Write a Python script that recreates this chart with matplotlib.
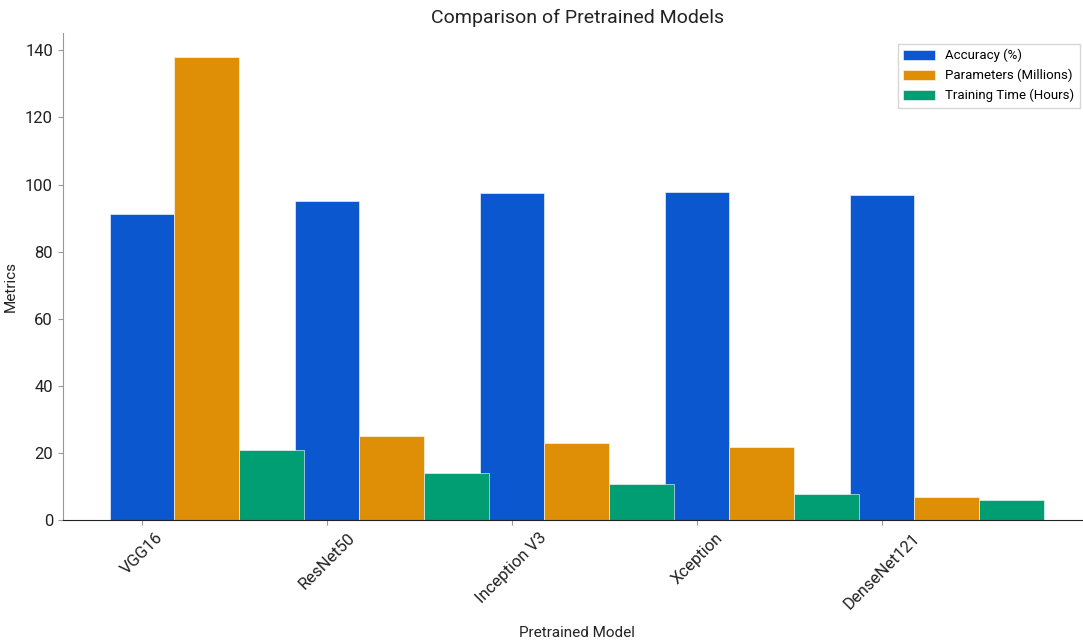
import numpy as np
import matplotlib
matplotlib.use("Agg")
import matplotlib.pyplot as plt

plt.rcParams['font.family'] = ['Roboto', 'DejaVu Sans']

# data
models = ['VGG16', 'ResNet50', 'Inception V3', 'Xception', 'DenseNet121']
accuracy = [91.3, 95.2, 97.4, 97.9, 96.9]
params = [138, 25, 23, 22, 7]
train_time = [21, 14, 11, 8, 6]

series_names = ['Accuracy (%)', 'Parameters (Millions)', 'Training Time (Hours)']
colors = ['#0b57d0', '#de8f05', '#029e73']

fig = plt.figure(figsize=(10.83, 6.41), dpi=100)
ax = fig.add_axes([0.058, 0.188, 0.949, 0.76])

x = np.arange(len(models))
w = 0.35
for k, vals in enumerate([accuracy, params, train_time]):
    ax.bar(x + k * w, vals, w, color=colors[k], label=series_names[k],
           edgecolor='white', linewidth=0.4)

ax.set_xticks(x)
ax.set_xticklabels(models, rotation=45, ha='center', fontsize=12, color='#222222')
ax.tick_params(axis='y', labelsize=12)
ax.set_yticks(range(0, 141, 20))
ax.set_ylim(0, 145)

ax.spines['top'].set_visible(False)
ax.spines['right'].set_visible(False)
ax.spines['left'].set_color('#999999')
ax.spines['bottom'].set_color('#222222')
ax.tick_params(axis='y', colors='#999999', labelcolor='#222222')
ax.tick_params(axis='x', colors='#999999', labelcolor='#222222')

ax.set_xlabel('Pretrained Model', fontsize=11, color='#222222', labelpad=10)
ax.set_ylabel('Metrics', fontsize=11, color='#222222')
ax.yaxis.set_label_coords(-0.044, 0.48)
fig.text(0.533, 0.972, 'Comparison of Pretrained Models', ha='center',
         va='center', fontsize=14, color='#222222')

fig.legend(loc='upper right', bbox_to_anchor=(1.003, 0.942), fontsize=9.5,
           frameon=True, fancybox=False, edgecolor='#cccccc',
           handlelength=2.4, handleheight=0.8)

fig.savefig('out.png', dpi=100)
